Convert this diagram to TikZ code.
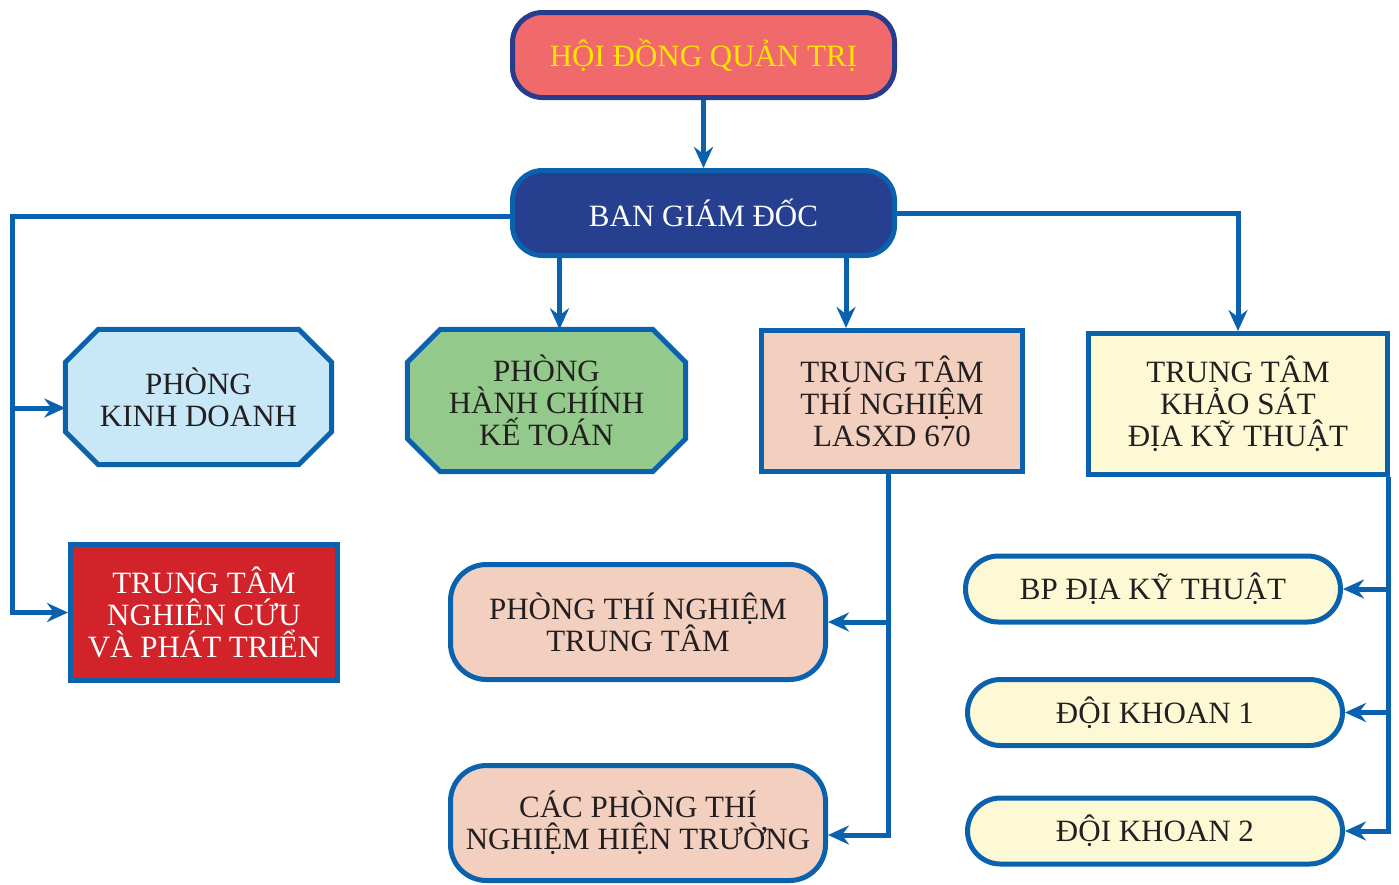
\documentclass[tikz,border=0pt]{standalone}
\usepackage{fontspec}
\setmainfont{Liberation Serif}
\usetikzlibrary{arrows.meta,backgrounds}
\definecolor{lineblue}{HTML}{0A62AE}
\definecolor{navy}{HTML}{283C8E}
\definecolor{bgdblue}{HTML}{273F8F}
\definecolor{salmon}{HTML}{F0696B}
\definecolor{gold}{HTML}{FFE600}
\definecolor{skyfill}{HTML}{C8E8F8}
\definecolor{greenfill}{HTML}{93C98A}
\definecolor{peach}{HTML}{F3CFC0}
\definecolor{cream}{HTML}{FEF9D5}
\definecolor{redfill}{HTML}{D2232A}
\definecolor{ink}{HTML}{231F20}

\begin{document}
\begin{tikzpicture}[x=1pt,y=-1pt,
    every node/.style={align=center,inner sep=0pt,text=ink,
      font=\fontsize{31}{32}\selectfont},
    unit/.style={draw=lineblue,line width=5pt},
    pill/.style={unit,rounded corners=33pt,minimum width=375pt,minimum height=66pt},
    link/.style={draw=lineblue,line width=5pt,
      -{Stealth[length=21pt,width=19pt,inset=7pt]}}]
  \useasboundingbox (0,0) rectangle (1399,884);
      \draw
        (703.5,55) node[unit,draw=navy,fill=salmon,text=gold,rounded corners=30pt,
          minimum width=382pt,minimum height=85pt] (0){HỘI ĐỒNG QUẢN TRỊ}
        (703.5,213) node[unit,fill=bgdblue,text=white,rounded corners=30pt,
          minimum width=382pt,minimum height=85pt] (1){BAN GIÁM ĐỐC}
        (198.5,397) node[minimum width=266pt,minimum height=135pt] (2){PHÒNG\\KINH DOANH}
        (546.5,400.5) node[minimum width=278pt,minimum height=142pt] (3){PHÒNG\\HÀNH CHÍNH\\KẾ TOÁN}
        (892,401) node[unit,fill=peach,minimum width=261pt,minimum height=141pt] (4){TRUNG TÂM\\THÍ NGHIỆM\\LASXD 670}
        (1238,404) node[unit,fill=cream,minimum width=299pt,minimum height=141pt] (5){TRUNG TÂM\\KHẢO SÁT\\ĐỊA KỸ THUẬT}
        (204,612.5) node[unit,fill=redfill,text=white,minimum width=267pt,minimum height=136pt] (6){TRUNG TÂM\\NGHIÊN CỨU\\VÀ PHÁT TRIỂN}
        (638,622) node[pill,fill=peach,rounded corners=36pt,minimum height=115pt] (7){PHÒNG THÍ NGHIỆM\\TRUNG TÂM}
        (638,823) node[pill,fill=peach,rounded corners=36pt,minimum height=115pt] (8){CÁC PHÒNG THÍ\\NGHIỆM HIỆN TRƯỜNG}
        (1153,589) node[pill,fill=cream] (9){BP ĐỊA KỸ THUẬT}
        (1155,712.5) node[pill,fill=cream] (10){ĐỘI KHOAN 1}
        (1155,831) node[pill,fill=cream] (11){ĐỘI KHOAN 2};
      % octagons behind the two text nodes
      \begin{scope}[on background layer]
        \foreach \n/\c in {2/skyfill,3/greenfill}
          \filldraw[unit,fill=\c] ([xshift=33pt]\n.north west) -- ([xshift=-33pt]\n.north east)
            -- ([yshift=-33pt]\n.north east) -- ([yshift=33pt]\n.south east)
            -- ([xshift=-33pt]\n.south east) -- ([xshift=33pt]\n.south west)
            -- ([yshift=33pt]\n.south west) -- ([yshift=-33pt]\n.north west) -- cycle;
      \end{scope}
      \coordinate (left) at (12,216);
      \begin{scope}[link]
        \draw (0) -- (1);
        \draw (1.west |- left) -- (left) |- (6.west);
        \draw (left |- 0,408) -- ([yshift=-11pt]2.west);
        \draw ([xshift=13pt]3.north |- 1.south) -- ([xshift=13pt]3.north);
        \draw ([xshift=-46pt]4.north |- 1.south) -- ([xshift=-46pt]4.north);
        \draw (1.east) -| (5.north);
        \draw ([xshift=-4pt]4.south) |- ([yshift=-12pt]8.east);
        \draw ([xshift=-4pt]4.south |- 7.east) -- (7.east);
        \draw ([xshift=-2pt]5.south east) |- (11.east);
        \draw ([xshift=-2pt]5.south east |- 9.east) -- (9.east);
        \draw ([xshift=-2pt]5.south east |- 10.east) -- (10.east);
      \end{scope}
    \end{tikzpicture}
\end{document}
